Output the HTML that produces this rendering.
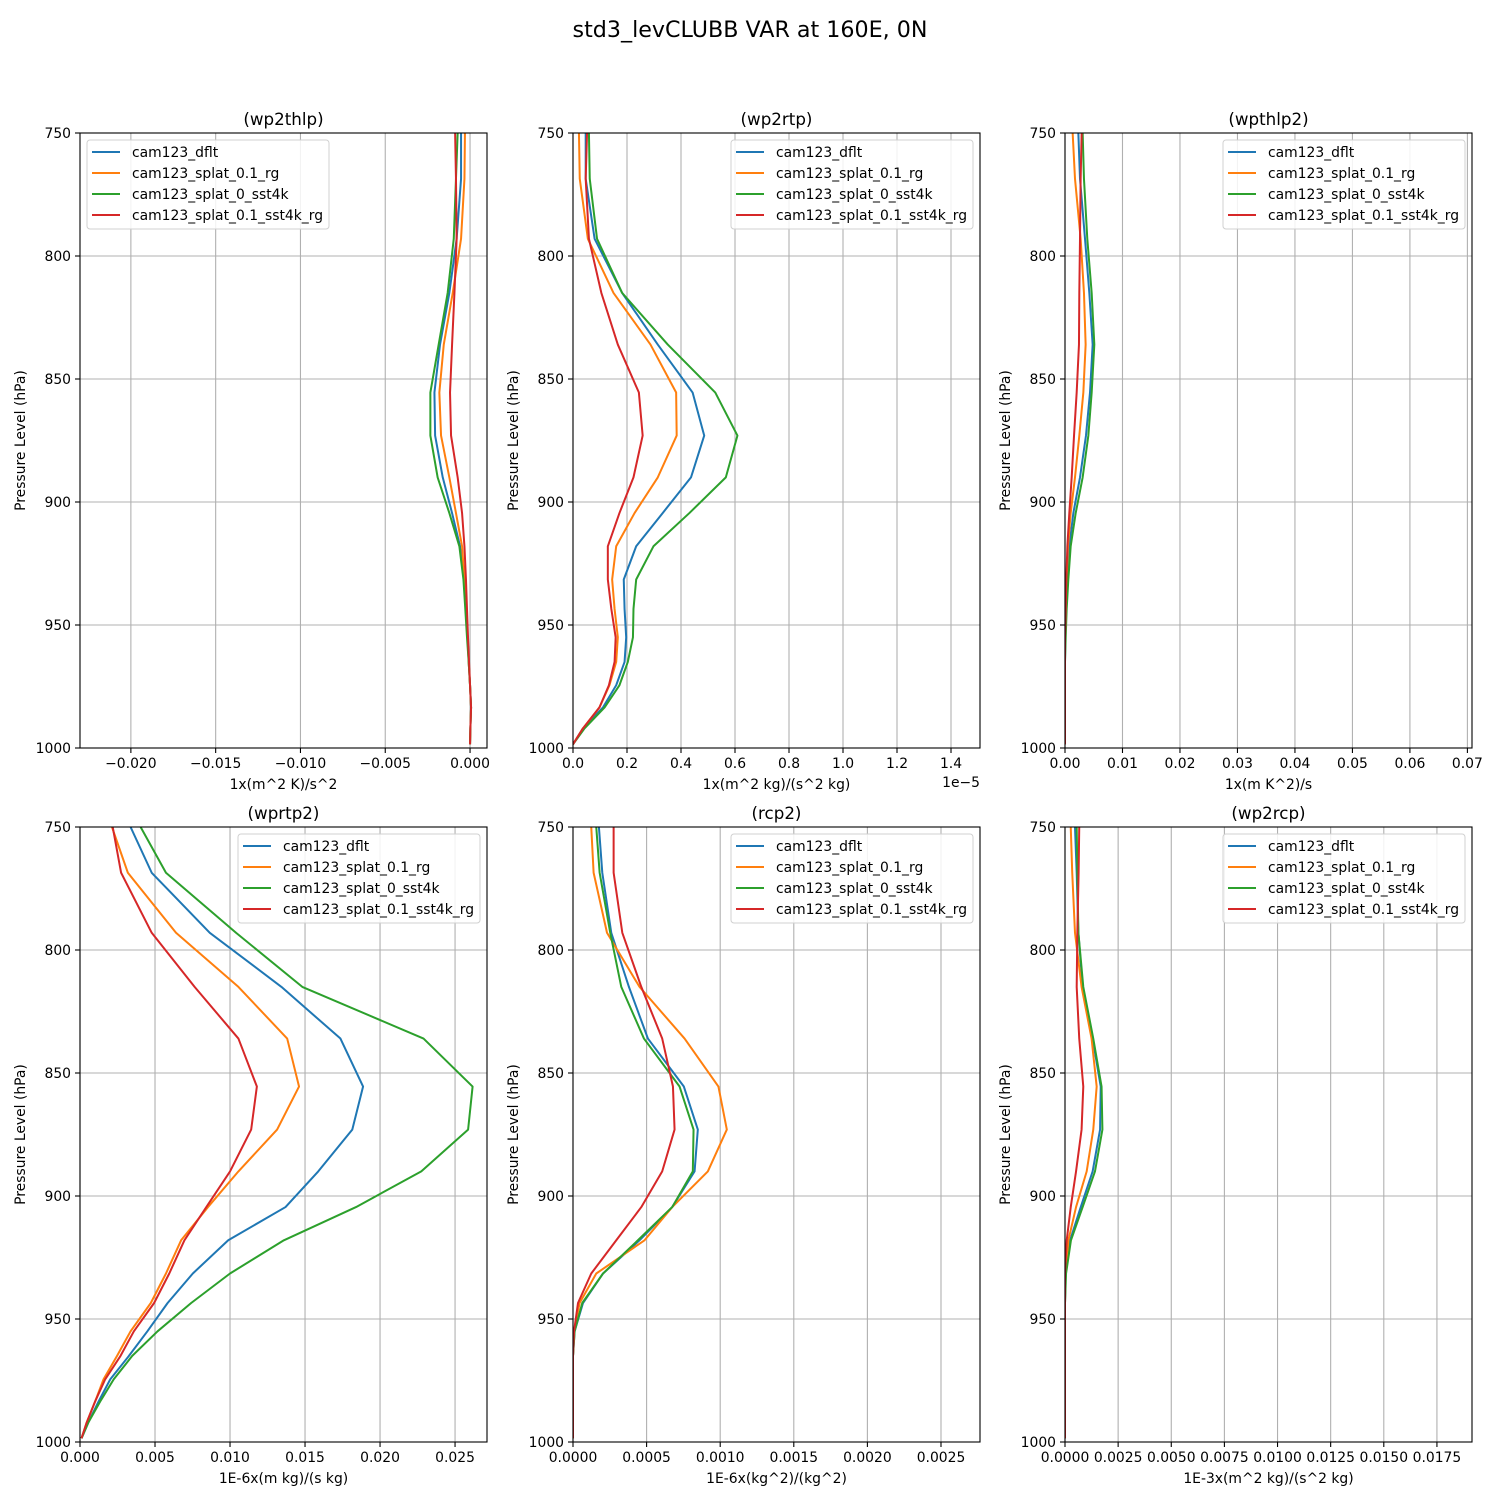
<!DOCTYPE html>
<html><head><meta charset="utf-8"><style>
body{margin:0;background:#fff;}
svg{display:block;font-family:"DejaVu Sans","Liberation Sans",sans-serif;}
</style></head><body>
<svg id="fig" width="1500" height="1500" viewBox="0 0 1500 1500">
<text x="750" y="37" font-size="22.2" text-anchor="middle">std3_levCLUBB VAR at 160E, 0N</text>
</svg>
<script>
const levels=[750,768.6,793,815,836,855.5,873,890,904.5,918,931.5,943.5,955,965,974.5,983.5,992,998.5];
const seriesNames=["cam123_dflt","cam123_splat_0.1_rg","cam123_splat_0_sst4k","cam123_splat_0.1_sst4k_rg"];
const colors=["#1f77b4","#ff7f0e","#2ca02c","#d62728"];
// panel 1 wp2thlp
const p1Blue=[-0.00053,-0.00053,-0.00079,-0.00122,-0.00177,-0.0021,-0.00206,-0.00161,-0.00106,-0.00059,-0.00033,-0.00024,-0.00014,-0.00008,0,0.00006,0.00002,0];
const p1Orange=[-0.0003,-0.00033,-0.00053,-0.00102,-0.00155,-0.00181,-0.00171,-0.00122,-0.00083,-0.00047,-0.00033,-0.00024,-0.00014,-0.00008,0,0.00006,0.00002,0];
const p1Green=[-0.00073,-0.00083,-0.00096,-0.00132,-0.00185,-0.00234,-0.00234,-0.00191,-0.00122,-0.00063,-0.00039,-0.00028,-0.00018,-0.00008,0,0.00006,0.00002,0];
const p1Red=[-0.00088,-0.00083,-0.00079,-0.00092,-0.00106,-0.00118,-0.00112,-0.00073,-0.00047,-0.00033,-0.00024,-0.00018,-0.00012,-0.00006,0,0.00006,0.00002,0];
const p1Ticks=["−0.020","−0.015","−0.010","−0.005","0.000"];
// panel 2 wp2rtp (units of 1e-5)
const p2Blue=[0.047,0.047,0.08,0.182,0.314,0.443,0.486,0.437,0.332,0.234,0.188,0.191,0.197,0.191,0.16,0.111,0.037,0];
const p2Orange=[0.022,0.025,0.055,0.15,0.287,0.382,0.384,0.314,0.228,0.16,0.145,0.154,0.166,0.16,0.135,0.098,0.037,0];
const p2Green=[0.059,0.062,0.089,0.182,0.351,0.527,0.609,0.566,0.431,0.298,0.234,0.224,0.222,0.203,0.172,0.117,0.043,0];
const p2Red=[0.052,0.047,0.059,0.105,0.166,0.244,0.258,0.224,0.172,0.129,0.129,0.142,0.158,0.154,0.133,0.098,0.037,0];
const p2Ticks=["0.0","0.2","0.4","0.6","0.8","1.0","1.2","1.4"];
// panel 3 wpthlp2
const p3Blue=[0.00232,0.00261,0.00348,0.00423,0.00481,0.00435,0.00365,0.00261,0.00145,0.00075,0.00041,0.00017,0.00006,0,0,0,0,0];
const p3Orange=[0.00133,0.00174,0.00272,0.0033,0.00359,0.00319,0.00249,0.00174,0.00099,0.00052,0.00029,0.00012,0,0,0,0,0,0];
const p3Green=[0.00307,0.0033,0.00388,0.00464,0.0051,0.00464,0.00406,0.00307,0.00186,0.00099,0.00058,0.00029,0.00012,0,0,0,0,0];
const p3Red=[0.0029,0.00272,0.00261,0.00249,0.00243,0.00203,0.00157,0.00116,0.00075,0.00041,0.00023,0.00012,0,0,0,0,0,0];
const p3Ticks=["0.00","0.01","0.02","0.03","0.04","0.05","0.06","0.07"];
// panel 4 wprtp2
const p4Blue=[0.00337,0.00478,0.00865,0.01343,0.01736,0.01887,0.01815,0.01588,0.0137,0.00988,0.00752,0.00584,0.00449,0.00326,0.00202,0.00124,0.00056,0.0001];
const p4Orange=[0.00213,0.00319,0.0064,0.01056,0.01381,0.0146,0.01314,0.01056,0.00853,0.00674,0.00573,0.00472,0.00337,0.00247,0.00157,0.00101,0.00045,0.0001];
const p4Green=[0.00404,0.00573,0.0104,0.01482,0.0229,0.02617,0.02587,0.02275,0.0184,0.01359,0.01,0.00741,0.00517,0.00348,0.00225,0.00135,0.00056,0.0001];
const p4Red=[0.00218,0.00274,0.00478,0.00764,0.01056,0.01179,0.01141,0.01,0.00842,0.00696,0.00595,0.00494,0.00359,0.0027,0.00168,0.00101,0.00045,0.0001];
const p4Ticks=["0.000","0.005","0.010","0.015","0.020","0.025"];
// panel 5 rcp2
const p5Blue=[0.000176,0.000199,0.00026,0.00038,0.000509,0.000753,0.000848,0.000826,0.000674,0.000452,0.000204,0.000068,0.000011,0,0,0,0,0];
const p5Orange=[0.000124,0.00014,0.000231,0.000452,0.000758,0.000988,0.001045,0.000916,0.000674,0.000486,0.000158,0.000045,0.000007,0,0,0,0,0];
const p5Green=[0.000158,0.000181,0.000253,0.000328,0.000482,0.000724,0.000819,0.000814,0.000674,0.000441,0.000204,0.000063,0.000011,0,0,0,0,0];
const p5Red=[0.000276,0.000276,0.000335,0.000464,0.000606,0.000679,0.00069,0.000606,0.000464,0.000294,0.000124,0.000034,0.000007,0,0,0,0,0];
const p5Ticks=["0.0000","0.0005","0.0010","0.0015","0.0020","0.0025"];
// panel 6 wp2rcp
const p6Blue=[0.00047,0.00055,0.00063,0.00083,0.0013,0.00168,0.00165,0.0013,0.00074,0.00024,0.00003,0,0,0,0,0,0,0];
const p6Orange=[0.00027,0.00034,0.00047,0.00078,0.00125,0.00149,0.00133,0.00102,0.00052,0.00016,0.00002,0,0,0,0,0,0,0];
const p6Green=[0.00055,0.00058,0.00063,0.00086,0.00133,0.00172,0.00176,0.00141,0.00083,0.00028,0.00005,0,0,0,0,0,0,0];
const p6Red=[0.00067,0.00064,0.00058,0.00055,0.00067,0.00086,0.00078,0.00052,0.00027,0.00008,0,0,0,0,0,0,0,0];
const p6Ticks=["0.0000","0.0025","0.0050","0.0075","0.0100","0.0125","0.0150","0.0175"];
const yTicks=[750,800,850,900,950,1000];

const NS="http://www.w3.org/2000/svg";
const fig=document.getElementById('fig');
function mk(tag,attrs,parent){const e=document.createElementNS(NS,tag);for(const k in attrs)e.setAttribute(k,attrs[k]);(parent||fig).appendChild(e);return e;}

const panels=[
 {id:"wp2thlp",x0:80,y0:133,xmin:-0.023,xmax:0.001,t0:-0.020,dt:0.005,ticks:p1Ticks,series:[p1Blue,p1Orange,p1Green,p1Red],xl:"1x(m^2 K)/s^2",leg:"left"},
 {id:"wp2rtp",x0:573,y0:133,xmin:0,xmax:1.5074,t0:0,dt:0.2,ticks:p2Ticks,series:[p2Blue,p2Orange,p2Green,p2Red],xl:"1x(m^2 kg)/(s^2 kg)",leg:"right",offset:"1e−5"},
 {id:"wpthlp2",x0:1065,y0:133,xmin:0,xmax:0.0708,t0:0,dt:0.01,ticks:p3Ticks,series:[p3Blue,p3Orange,p3Green,p3Red],xl:"1x(m K^2)/s",leg:"right"},
 {id:"wprtp2",x0:80,y0:827,xmin:0,xmax:0.02713,t0:0,dt:0.005,ticks:p4Ticks,series:[p4Blue,p4Orange,p4Green,p4Red],xl:"1E-6x(m kg)/(s kg)",leg:"right"},
 {id:"rcp2",x0:573,y0:827,xmin:0,xmax:0.002765,t0:0,dt:0.0005,ticks:p5Ticks,series:[p5Blue,p5Orange,p5Green,p5Red],xl:"1E-6x(kg^2)/(kg^2)",leg:"right"},
 {id:"wp2rcp",x0:1065,y0:827,xmin:0,xmax:0.01915,t0:0,dt:0.0025,ticks:p6Ticks,series:[p6Blue,p6Orange,p6Green,p6Red],xl:"1E-3x(m^2 kg)/(s^2 kg)",leg:"right"}
];
const W=407,H=615,FS=13.9;
panels.forEach((p,pi)=>{
 const g=mk('g',{});
 
 
 const xs=v=>p.x0+(v-p.xmin)/(p.xmax-p.xmin)*W;
 const ys=v=>p.y0+(v-750)/250*H;
 const cid='clip'+pi;
 const cp=mk('clipPath',{id:cid},g);mk('rect',{x:p.x0,y:p.y0,width:W,height:H},cp);
 p.ticks.forEach((lab,i)=>{
  const x=xs(p.t0+i*p.dt);
  const gl=mk('line',{x1:x,x2:x,y1:p.y0,y2:p.y0+H,stroke:'#b0b0b0','stroke-width':1.1},g);
  
  
  mk('line',{x1:x,x2:x,y1:p.y0+H,y2:p.y0+H+5,stroke:'#000','stroke-width':1.1},g);
  const t=mk('text',{x:x,y:p.y0+H+20,'font-size':FS,'text-anchor':'middle'},g);t.textContent=lab;
  
  
 });
 yTicks.forEach(v=>{
  const y=ys(v);
  const gl=mk('line',{x1:p.x0,x2:p.x0+W,y1:y,y2:y,stroke:'#b0b0b0','stroke-width':1.1},g);
  
  
  mk('line',{x1:p.x0-5,x2:p.x0,y1:y,y2:y,stroke:'#000','stroke-width':1.1},g);
  const t=mk('text',{x:p.x0-9,y:y+5,'font-size':FS,'text-anchor':'end'},g);t.textContent=v;
  
  
 });
 p.series.forEach((s,si)=>{
  const d=s.map((v,i)=>(i?'L':'M')+xs(v).toFixed(2)+','+ys(levels[i]).toFixed(2)).join(' ');
  const pl=mk('path',{d:d,fill:'none',stroke:colors[si],'stroke-width':2,'stroke-linejoin':'round','clip-path':'url(#'+cid+')'},g);
  
  
 });
 mk('rect',{x:p.x0,y:p.y0,width:W,height:H,fill:'none',stroke:'#000','stroke-width':1.1},g);
 const tt=mk('text',{x:p.x0+W/2,y:p.y0-8,'font-size':16.7,'text-anchor':'middle'},g);tt.textContent='('+p.id+')';
 
 
 const xl=mk('text',{x:p.x0+W/2,y:p.y0+H+41,'font-size':FS,'text-anchor':'middle'},g);xl.textContent=p.xl;
 
 
 const yl=mk('text',{x:0,y:0,'font-size':FS,'text-anchor':'middle',transform:'translate('+(p.x0-55)+','+(p.y0+H/2)+') rotate(-90)'},g);yl.textContent='Pressure Level (hPa)';
 
 
 if(p.offset){const o=mk('text',{x:p.x0+W,y:p.y0+H+39,'font-size':FS,'text-anchor':'end'},g);o.textContent=p.offset;
  
  }
 const lx=p.leg==='left'?p.x0+7:p.x0+W-249, ly=p.y0+7;
 const lg=mk('g',{},g);
 
 
 mk('rect',{x:lx,y:ly,width:242,height:89,rx:3,fill:'#fff','fill-opacity':0.85,stroke:'#d0d0d0','stroke-width':1},lg);
 seriesNames.forEach((n,i)=>{
  const y=ly+12+i*21;
  const e=mk('g',{},lg);
  
  
  mk('line',{x1:lx+5,x2:lx+33,y1:y,y2:y,stroke:colors[i],'stroke-width':2},e);
  const t=mk('text',{x:lx+45,y:y+5,'font-size':FS},e);t.textContent=n;
 });
});
</script>
</body></html>
